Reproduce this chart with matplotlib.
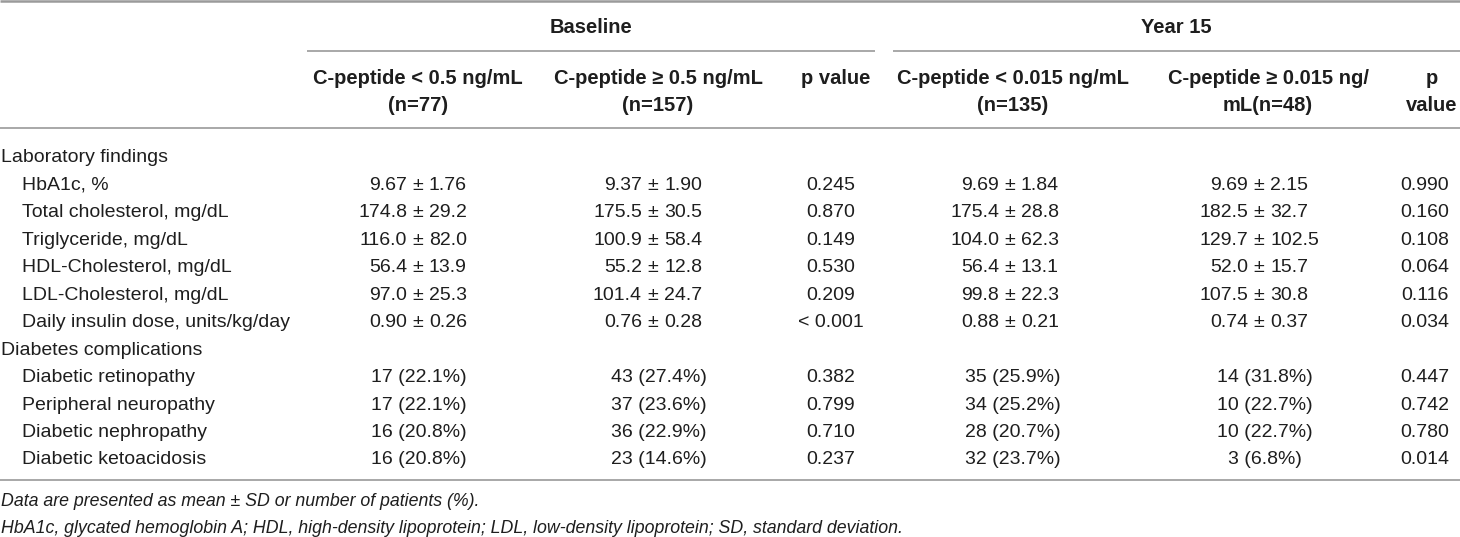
import matplotlib.pyplot as plt

plt.rcParams['font.family'] = ['Liberation Sans', 'DejaVu Sans']

# ---- table data ----
periods = ['Baseline', 'Year 15']
col_heads = [['C-peptide < 0.5 ng/mL', '(n=77)'],
             ['C-peptide \u2265 0.5 ng/mL', '(n=157)'],
             ['p value'],
             ['C-peptide < 0.015 ng/mL', '(n=135)'],
             ['C-peptide \u2265 0.015 ng/', 'mL(n=48)'],
             ['p', 'value']]

groups = ['Laboratory findings', 'Diabetes complications']

lab_items = ['HbA1c, %', 'Total cholesterol, mg/dL', 'Triglyceride, mg/dL',
             'HDL-Cholesterol, mg/dL', 'LDL-Cholesterol, mg/dL',
             'Daily insulin dose, units/kg/day']
lab_decimals = [2, 1, 1, 1, 1, 2]
base_low_mean = [9.67, 174.8, 116.0, 56.4, 97.0, 0.90]
base_low_sd = [1.76, 29.2, 82.0, 13.9, 25.3, 0.26]
base_high_mean = [9.37, 175.5, 100.9, 55.2, 101.4, 0.76]
base_high_sd = [1.90, 30.5, 58.4, 12.8, 24.7, 0.28]
base_lab_p = ['0.245', '0.870', '0.149', '0.530', '0.209', '< 0.001']
y15_low_mean = [9.69, 175.4, 104.0, 56.4, 99.8, 0.88]
y15_low_sd = [1.84, 28.8, 62.3, 13.1, 22.3, 0.21]
y15_high_mean = [9.69, 182.5, 129.7, 52.0, 107.5, 0.74]
y15_high_sd = [2.15, 32.7, 102.5, 15.7, 30.8, 0.37]
y15_lab_p = ['0.990', '0.160', '0.108', '0.064', '0.116', '0.034']

comp_items = ['Diabetic retinopathy', 'Peripheral neuropathy',
              'Diabetic nephropathy', 'Diabetic ketoacidosis']
base_low_n = [17, 17, 16, 16]
base_low_pct = [22.1, 22.1, 20.8, 20.8]
base_high_n = [43, 37, 36, 23]
base_high_pct = [27.4, 23.6, 22.9, 14.6]
base_comp_p = ['0.382', '0.799', '0.710', '0.237']
y15_low_n = [35, 34, 28, 32]
y15_low_pct = [25.9, 25.2, 20.7, 23.7]
y15_high_n = [14, 10, 10, 3]
y15_high_pct = [31.8, 22.7, 22.7, 6.8]
y15_comp_p = ['0.447', '0.742', '0.780', '0.014']

footnotes = ['Data are presented as mean \u00b1 SD or number of patients (%).',
             'HbA1c, glycated hemoglobin A; HDL, high-density lipoprotein; '
             'LDL, low-density lipoprotein; SD, standard deviation.']

# ---- layout (pixels) ----
W, H = 1460, 537
fs = 14
fs_head = 14.5
fs_note = 12.8
txt = '#1e1e1e'
rule = '#9a9a9a'
head_x = [418, 658, 836, 1013, 1268, 1432]   # header centres
pm_x = [418, 653, None, 1010, 1259, None]      # where the +/- sign sits
cnt_x = [419, 659, None, 1013, 1265, None]     # count column centres
p_x = [None, None, 831, None, None, 1425]
gap = 11
row0, step = 162.5, 27.45

fig = plt.figure(figsize=(W / 100, H / 100), dpi=100)
ax = fig.add_axes([0, 0, 1, 1])
ax.set_xlim(0, W)
ax.set_ylim(H, 0)
ax.axis('off')

# rules
ax.hlines(1, 0, W, color=rule, lw=1.8)
ax.hlines(51, 307, 875, color=rule, lw=1.2)
ax.hlines(51, 893, W, color=rule, lw=1.2)
ax.hlines(128, 0, W, color=rule, lw=1.2)
ax.hlines(480, 0, W, color=rule, lw=1.2)

# header
for name, cx in zip(periods, [591, 1176]):
    ax.text(cx, 33, name, ha='center', va='baseline', fontsize=fs_head,
            fontweight='bold', color=txt)
for lines, cx in zip(col_heads, head_x):
    for k, s in enumerate(lines):
        ax.text(cx, 84 + k * 27, s, ha='center', va='baseline', fontsize=fs_head,
                fontweight='bold', color=txt)


def mean_sd(col, y, m, sd, d):
    x = pm_x[col]
    ax.text(x - gap, y, f'{m:.{d}f}', ha='right', va='baseline', fontsize=fs, color=txt)
    ax.text(x, y, '\u00b1', ha='center', va='baseline', fontsize=fs, color=txt)
    ax.text(x + gap, y, f'{sd:.{d}f}', ha='left', va='baseline', fontsize=fs, color=txt)


def count(col, y, n, pct):
    ax.text(cnt_x[col], y, f'{n} ({pct:.1f}%)', ha='center', va='baseline',
            fontsize=fs, color=txt)


def pval(col, y, p):
    ax.text(p_x[col], y, p, ha='center', va='baseline', fontsize=fs, color=txt)


row = 0
ax.text(1, row0, groups[0], ha='left', va='baseline', fontsize=fs, color=txt)
for i, item in enumerate(lab_items):
    row += 1
    y = row0 + row * step
    d = lab_decimals[i]
    ax.text(22, y, item, ha='left', va='baseline', fontsize=fs, color=txt)
    mean_sd(0, y, base_low_mean[i], base_low_sd[i], d)
    mean_sd(1, y, base_high_mean[i], base_high_sd[i], d)
    pval(2, y, base_lab_p[i])
    mean_sd(3, y, y15_low_mean[i], y15_low_sd[i], d)
    mean_sd(4, y, y15_high_mean[i], y15_high_sd[i], d)
    pval(5, y, y15_lab_p[i])

row += 1
ax.text(1, row0 + row * step, groups[1], ha='left', va='baseline', fontsize=fs, color=txt)
for i, item in enumerate(comp_items):
    row += 1
    y = row0 + row * step
    ax.text(22, y, item, ha='left', va='baseline', fontsize=fs, color=txt)
    count(0, y, base_low_n[i], base_low_pct[i])
    count(1, y, base_high_n[i], base_high_pct[i])
    pval(2, y, base_comp_p[i])
    count(3, y, y15_low_n[i], y15_low_pct[i])
    count(4, y, y15_high_n[i], y15_high_pct[i])
    pval(5, y, y15_comp_p[i])

for k, note in enumerate(footnotes):
    ax.text(1, 506 + k * 27, note, ha='left', va='baseline', fontsize=fs_note,
            style='italic', color=txt)

fig.savefig('out.png', dpi=100)
